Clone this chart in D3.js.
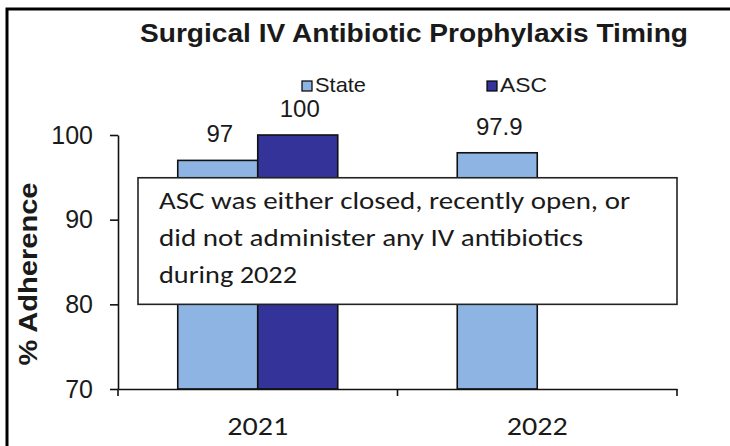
<!DOCTYPE html>
<html lang="en">
<head>
<meta charset="utf-8">
<title>Surgical IV Antibiotic Prophylaxis Timing</title>
<script src="https://cdn.jsdelivr.net/npm/d3@7"></script>
<style>
  body { margin: 0; background: #fff; overflow: hidden; }
  svg { display: block; }
</style>
</head>
<body>
<div id="chart"></div>
<script>

/* Data */
/* ==== */

var years = ['2021', '2022'];
var seriesNames = ['State', 'ASC'];
var stateValues = [97, 97.9];
var ascValues = [100, null];   // no ASC value for 2022
var yTicks = [70, 80, 90, 100];
var noteLines = [
  'ASC was either closed, recently open, or',
  'did not administer any IV antibiotics',
  'during 2022'
];

/* Setup */
/* ===== */

var width = 730,
    height = 446,
    margin = { top: 135, right: 53, bottom: 57, left: 118 };

var colors = { State: '#8DB4E2', ASC: '#333399' };
var arial = '"Liberation Sans", Arial, sans-serif',
    calibri = 'Carlito, Lato, "Open Sans", sans-serif';

var svg = d3.select('#chart').append('svg')
    .attr('width', width)
    .attr('height', height);

// outer frame, cropped at right and bottom
svg.append('path')
    .attr('d', 'M7,' + height + 'V9H' + width)
    .attr('fill', 'none')
    .attr('stroke', '#000')
    .attr('stroke-width', 3);

var x = d3.scaleBand()
    .domain(years)
    .range([margin.left, width - margin.right]);

var xSeries = d3.scaleBand()
    .domain(seriesNames)
    .range([0, 160]);

var y = d3.scaleLinear()
    .domain([70, 100])
    .range([height - margin.bottom, margin.top]);

// title
svg.append('text')
    .attr('x', 140).attr('y', 42)
    .attr('textLength', 548)
    .attr('lengthAdjust', 'spacingAndGlyphs')
    .style('font-family', arial)
    .style('font-weight', 'bold')
    .style('font-size', '25px')
    .attr('fill', '#1a1a1a')
    .text('Surgical IV Antibiotic Prophylaxis Timing');

// legend
var legendX = [302, 487],
    legendW = [51, 47];
var legend = svg.selectAll('.legend')
    .data(seriesNames)
    .enter().append('g')
    .attr('transform', function(d, i) { return 'translate(' + legendX[i] + ',81)'; });

legend.append('rect')
    .attr('width', 10).attr('height', 10)
    .attr('fill', function(d) { return colors[d]; })
    .attr('stroke', '#000')
    .attr('stroke-width', 1.2);

legend.append('text')
    .attr('x', 13).attr('y', 11)
    .attr('textLength', function(d, i) { return legendW[i]; })
    .attr('lengthAdjust', 'spacingAndGlyphs')
    .style('font-family', arial)
    .style('font-size', '21px')
    .attr('fill', '#1a1a1a')
    .text(function(d) { return d; });

// bars
var barData = [];
years.forEach(function(yr, i) {
  barData.push({ year: yr, series: 'State', value: stateValues[i] });
  if (ascValues[i] != null) barData.push({ year: yr, series: 'ASC', value: ascValues[i] });
});

function barX(d) {
  var groupStart = x(d.year) + (x.bandwidth() - xSeries.range()[1]) / 2;
  return groupStart + xSeries(d.series);
}

svg.selectAll('.bar')
    .data(barData)
    .enter().append('rect')
    .attr('class', 'bar')
    .attr('x', barX)
    .attr('y', function(d) { return y(d.value); })
    .attr('width', xSeries.bandwidth())
    .attr('height', function(d) { return y(70) - y(d.value); })
    .attr('fill', function(d) { return colors[d.series]; })
    .attr('stroke', '#111')
    .attr('stroke-width', 1.6);

// value labels
svg.selectAll('.val')
    .data(barData)
    .enter().append('text')
    .attr('x', function(d) { return barX(d) + xSeries.bandwidth() / 2 + 2; })
    .attr('y', function(d) { return y(d.value) - 18; })
    .attr('text-anchor', 'middle')
    .style('font-family', arial)
    .style('font-size', '24px')
    .attr('fill', '#1a1a1a')
    .text(function(d) { return d.value; });

// y axis
var yAxis = svg.append('g')
    .attr('transform', 'translate(' + margin.left + ',0)')
    .call(d3.axisLeft(y).tickValues(yTicks).tickSize(8).tickSizeOuter(0).tickPadding(17));

yAxis.select('.domain').attr('stroke', '#111').attr('stroke-width', 1.6);
yAxis.selectAll('.tick line').attr('stroke', '#111').attr('stroke-width', 1.6);
yAxis.selectAll('.tick text')
    .style('font-family', arial)
    .style('font-size', '25px')
    .attr('fill', '#1a1a1a');

// x axis
var xAxis = svg.append('g')
    .attr('transform', 'translate(0,' + y(70) + ')')
    .call(d3.axisBottom(x).tickSize(0).tickPadding(0));

xAxis.select('.domain').attr('stroke', '#111').attr('stroke-width', 1.6);
xAxis.selectAll('.tick text')
    .attr('dy', null)
    .attr('y', 46)
    .attr('textLength', 61)
    .attr('lengthAdjust', 'spacingAndGlyphs')
    .style('font-family', calibri)
    .style('font-size', '27px')
    .attr('fill', '#1a1a1a');

// category boundary ticks
var bounds = [x.range()[0]].concat(years.map(function(d) { return x(d) + x.bandwidth(); }));
xAxis.selectAll('.bound')
    .data(bounds)
    .enter().append('line')
    .attr('x1', function(d) { return d; })
    .attr('x2', function(d) { return d; })
    .attr('y1', 0).attr('y2', 7)
    .attr('stroke', '#111')
    .attr('stroke-width', 1.6);

// y axis title
svg.append('text')
    .attr('transform', 'translate(37,274) rotate(-90)')
    .attr('text-anchor', 'middle')
    .attr('textLength', 183)
    .attr('lengthAdjust', 'spacingAndGlyphs')
    .style('font-family', arial)
    .style('font-weight', 'bold')
    .style('font-size', '26px')
    .attr('fill', '#1a1a1a')
    .text('% Adherence');

// annotation box
var noteTop = y(94.95),
    noteBottom = y(80),
    noteLeft = 138,
    noteRight = x.range()[1];
var noteW = [471, 424, 138];

svg.append('rect')
    .attr('x', noteLeft).attr('y', noteTop)
    .attr('width', noteRight - noteLeft)
    .attr('height', noteBottom - noteTop)
    .attr('fill', '#fff')
    .attr('stroke', '#222')
    .attr('stroke-width', 1.6);

svg.selectAll('.note')
    .data(noteLines)
    .enter().append('text')
    .attr('x', 159)
    .attr('y', function(d, i) { return noteTop + 31 + i * 37; })
    .attr('textLength', function(d, i) { return noteW[i]; })
    .attr('lengthAdjust', 'spacingAndGlyphs')
    .style('font-family', calibri)
    .style('font-size', '25px')
    .attr('fill', '#1a1a1a')
    .text(function(d) { return d; });

</script>
</body>
</html>
